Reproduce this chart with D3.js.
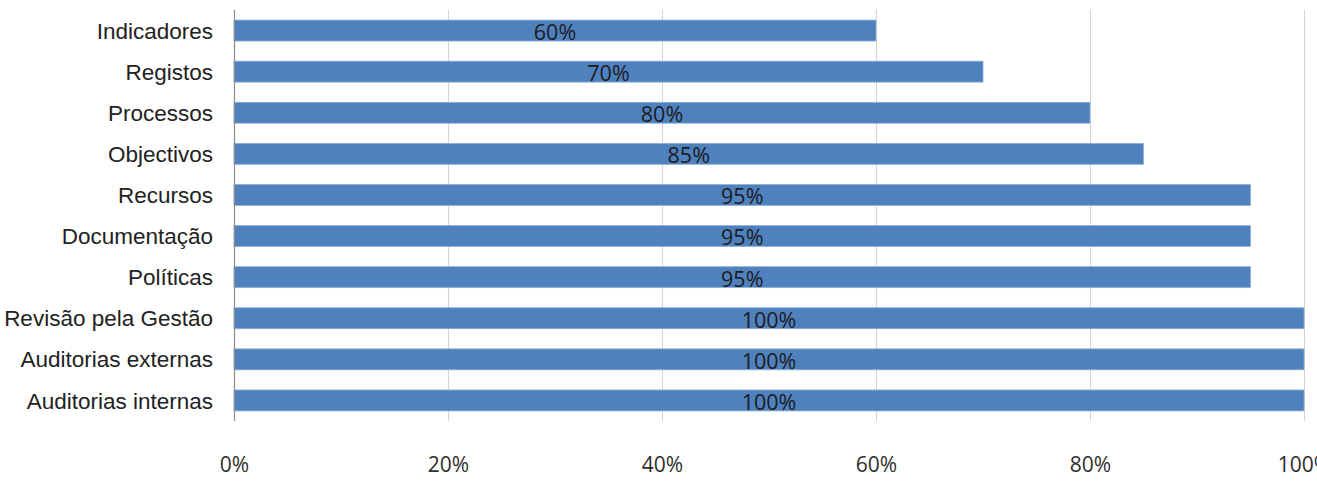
<!DOCTYPE html>
<html>
<head>
<meta charset="utf-8">
<script src="https://cdnjs.cloudflare.com/ajax/libs/d3/7.8.5/d3.min.js"></script>
<style>
  html, body { margin: 0; padding: 0; background: #fff; overflow: hidden; }
  .cat text { font-family: "Liberation Sans", Arial, sans-serif; font-size: 22.5px; fill: #222; }
  .tick-x text { font-family: "Open Sans", sans-serif; font-size: 21px; fill: #2e2e2e; }
  .lbl { font-family: "Open Sans", sans-serif; font-size: 21.5px; fill: #1c1c24; }
</style>
</head>
<body>
<div id="chart"></div>
<script>
// data, top to bottom as drawn
const categories = ['Indicadores', 'Registos', 'Processos', 'Objectivos', 'Recursos',
  'Documentação', 'Políticas', 'Revisão pela Gestão', 'Auditorias externas', 'Auditorias internas'];
const values = [60, 70, 80, 85, 95, 95, 95, 100, 100, 100];
const xTicks = [0, 20, 40, 60, 80, 100];

const W = 1317, H = 489;
const margin = {t: 10, r: 13, b: 68, l: 234};
const w = W - margin.l - margin.r;
const h = H - margin.t - margin.b;

const data = categories.map((c, i) => ({cat: c, val: values[i]}));

const svg = d3.select('#chart').append('svg')
  .attr('width', W)
  .attr('height', H);

const plot = svg.append('g')
  .attr('transform', `translate(${margin.l},${margin.t})`);

const scaleX = d3.scaleLinear().domain([0, 100]).range([0, w]);
const scaleY = d3.scaleBand()
  .domain(categories)
  .range([0, h])
  .paddingInner(0.49)
  .paddingOuter(0.245);

// gridlines
plot.selectAll('.grid')
  .data(xTicks.slice(1))
  .enter().append('line')
  .attr('class', 'grid')
  .attr('x1', d => Math.round(scaleX(d)) + 0.5)
  .attr('x2', d => Math.round(scaleX(d)) + 0.5)
  .attr('y1', 0)
  .attr('y2', h)
  .attr('stroke', '#d4d4d4')
  .attr('stroke-width', 1);

// bars
plot.selectAll('.bar')
  .data(data)
  .enter().append('rect')
  .attr('class', 'bar')
  .attr('x', 0)
  .attr('y', d => scaleY(d.cat))
  .attr('width', d => scaleX(d.val))
  .attr('height', scaleY.bandwidth())
  .attr('fill', '#4f81bd')
  .attr('stroke', '#8fb0d8')
  .attr('stroke-width', 0.8);

// value axis line at 0
plot.append('line')
  .attr('x1', 0.5).attr('x2', 0.5)
  .attr('y1', 0).attr('y2', h)
  .attr('stroke', '#8c8c8c')
  .attr('stroke-width', 1.2);

// category labels
const axisY = d3.axisLeft(scaleY).tickSize(0).tickPadding(21);
plot.append('g')
  .attr('class', 'cat')
  .call(axisY)
  .call(g => g.select('.domain').remove())
  .selectAll('text')
  .attr('dy', '0.36em');

// x tick labels (the last one runs off the right edge, as in the original)
const axisX = d3.axisBottom(scaleX)
  .tickValues(xTicks)
  .tickSize(0)
  .tickPadding(36)
  .tickFormat(d => d + '%');
plot.append('g')
  .attr('class', 'tick-x')
  .attr('transform', `translate(0,${h})`)
  .call(axisX)
  .call(g => g.select('.domain').remove());

// data labels
plot.selectAll('.lbl')
  .data(data)
  .enter().append('text')
  .attr('class', 'lbl')
  .attr('x', d => scaleX(d.val) / 2)
  .attr('y', d => scaleY(d.cat) + scaleY.bandwidth())
  .attr('dy', '-0.05em')
  .attr('text-anchor', 'middle')
  .text(d => d.val + '%');
</script>
</body>
</html>
